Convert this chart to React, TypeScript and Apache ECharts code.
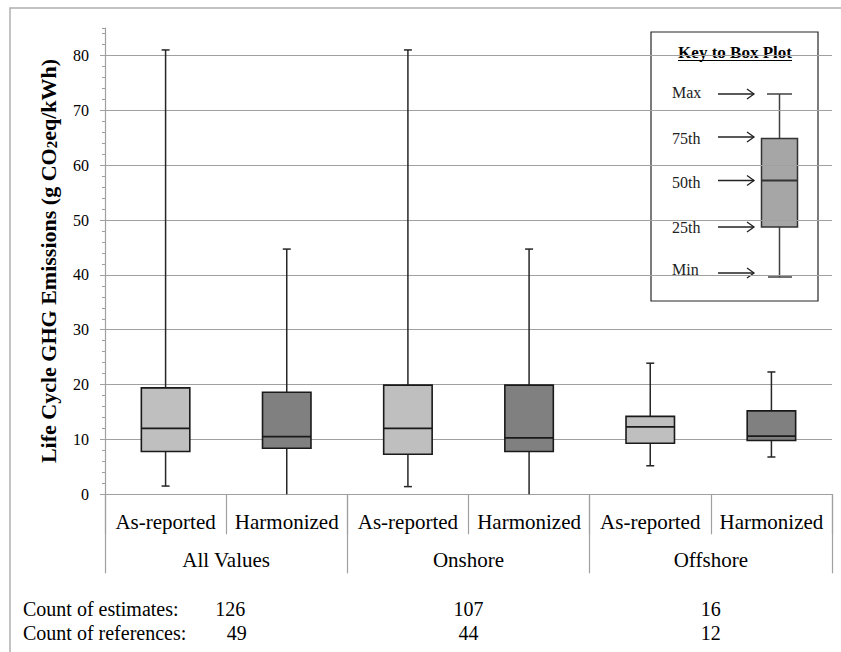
import React, { useEffect, useRef } from "react";
import * as echarts from "echarts";

const subCategories = ["As-reported", "Harmonized", "As-reported", "Harmonized", "As-reported", "Harmonized"];
const groups = ["All Values", "Onshore", "Offshore"];
// [min, q1, median, q3, max]
const boxStats = [
  [1.5, 7.8, 12.0, 19.4, 81],
  [0, 8.4, 10.5, 18.6, 44.7],
  [1.4, 7.3, 12.0, 19.9, 81],
  [0, 7.8, 10.3, 19.9, 44.7],
  [5.2, 9.3, 12.3, 14.2, 23.9],
  [6.8, 9.8, 10.6, 15.2, 22.3],
];
const boxColors = ["#BFBFBF", "#808080", "#BFBFBF", "#808080", "#BFBFBF", "#808080"];
const countEstimates = [126, 107, 16];
const countReferences = [49, 44, 12];
const yTicks = [0, 10, 20, 30, 40, 50, 60, 70, 80];

const FONT = "'Liberation Serif', 'Times New Roman', 'DejaVu Serif', serif";
const GRID = "#A0A0A0";

export default function App() {
  const ref = useRef<HTMLDivElement>(null);
  useEffect(() => {
    document.body.style.margin = "0";
    const chart = echarts.init(ref.current!, null, { renderer: "svg" });
    const data = boxStats.map((s, i) => [i, ...s]);
    const splitColors = yTicks.map(() => GRID).concat(["rgba(0,0,0,0)"]);
    const option: any = {
      animation: false,
      backgroundColor: "#fff",
      grid: { left: 105, right: 9, top: 28, bottom: 157.7 },
      xAxis: [
        {
          type: "category",
          data: subCategories,
          position: "bottom",
          axisLine: { show: true, lineStyle: { color: GRID, width: 1 } },
          axisTick: { show: true, length: 40, lineStyle: { color: GRID, width: 1.2 } },
          axisLabel: { interval: 0, margin: 17, fontFamily: FONT, fontSize: 21, color: "#000" },
          splitLine: { show: false },
        },
        {
          type: "category",
          data: groups,
          position: "bottom",
          axisLine: { show: false },
          axisTick: { show: true, length: 79, lineStyle: { color: GRID, width: 1.2 } },
          axisLabel: { interval: 0, margin: 55, fontFamily: FONT, fontSize: 21, color: "#000" },
        },
        {
          type: "category",
          data: groups,
          position: "bottom",
          axisLine: { show: false },
          axisTick: { show: false },
          axisLabel: {
            interval: 0,
            margin: 103,
            fontFamily: FONT,
            fontSize: 20,
            lineHeight: 24,
            color: "#000",
            formatter: (_v: string, i: number) =>
              i === 0
                ? `{e0|${countEstimates[i]}}\n{r0|${countReferences[i]}}`
                : `${countEstimates[i]}\n${countReferences[i]}`,
            rich: {
              e0: { fontFamily: FONT, fontSize: 20, lineHeight: 24, color: "#000", padding: [0, 0, 0, 8] },
              r0: { fontFamily: FONT, fontSize: 20, lineHeight: 24, color: "#000", padding: [0, 0, 0, 21] },
            },
          },
        },
      ],
      yAxis: [
        {
          type: "value",
          min: 0,
          max: 85,
          interval: 10,
          axisLine: { show: true, lineStyle: { color: GRID, width: 1.2 } },
          axisTick: { show: true, length: 5, lineStyle: { color: GRID } },
          axisLabel: {
            showMaxLabel: false,
            margin: 16,
            fontFamily: FONT,
            fontSize: 16,
            color: "#000",
            formatter: (v: number) => (yTicks.indexOf(v) >= 0 ? String(v) : ""),
          },
          splitLine: { show: true, lineStyle: { color: splitColors, width: 1.2 } },
        },
        {
          type: "value",
          min: 0,
          max: 85,
          interval: 2,
          position: "left",
          axisLine: { show: false },
          axisTick: { show: true, length: 3, lineStyle: { color: GRID } },
          axisLabel: { show: false },
          splitLine: { show: false },
        },
      ],
      series: [
        {
          type: "custom",
          xAxisIndex: 0,
          yAxisIndex: 0,
          data,
          renderItem: (params: any, api: any) => {
            const idx = api.value(0);
            const mn = api.value(1);
            const q1 = api.value(2);
            const md = api.value(3);
            const q3 = api.value(4);
            const mx = api.value(5);
            const pMax = api.coord([idx, mx]);
            const pQ3 = api.coord([idx, q3]);
            const pMd = api.coord([idx, md]);
            const pQ1 = api.coord([idx, q1]);
            const pMin = api.coord([idx, mn]);
            const bw = api.size([1, 0])[0] * 0.4;
            const cx = pMax[0];
            const cap = 4;
            const lineStyle = { stroke: "#262626", lineWidth: 1.5 };
            const children: any[] = [
              { type: "line", shape: { x1: cx, y1: pMax[1], x2: cx, y2: pQ3[1] }, style: lineStyle },
              { type: "line", shape: { x1: cx, y1: pQ1[1], x2: cx, y2: pMin[1] }, style: lineStyle },
              {
                type: "rect",
                shape: { x: cx - bw / 2, y: pQ3[1], width: bw, height: pQ1[1] - pQ3[1] },
                style: { fill: boxColors[params.dataIndex], stroke: "#1a1a1a", lineWidth: 1.6 },
              },
              { type: "line", shape: { x1: cx - bw / 2, y1: pMd[1], x2: cx + bw / 2, y2: pMd[1] }, style: { stroke: "#1a1a1a", lineWidth: 1.8 } },
            ];
            if (mx > q3) children.push({ type: "line", shape: { x1: cx - cap, y1: pMax[1], x2: cx + cap, y2: pMax[1] }, style: lineStyle });
            if (mn > 0.5) children.push({ type: "line", shape: { x1: cx - cap, y1: pMin[1], x2: cx + cap, y2: pMin[1] }, style: lineStyle });
            return { type: "group", children };
          },
        },
      ],
      graphic: [
        {
          type: "rect",
          shape: { x: 10, y: 8, width: 850, height: 660 },
          style: { fill: "none", stroke: "#B0B0B0", lineWidth: 1.5 },
          silent: true,
        },
        {
          type: "text",
          x: 48,
          y: 261,
          rotation: Math.PI / 2,
          style: {
            text: "{a|Life Cycle GHG Emissions (g CO}{s|2}{a|eq/kWh)}",
            align: "center",
            verticalAlign: "middle",
            rich: {
              a: { fontFamily: FONT, fontSize: 22, fontWeight: "bold", fill: "#000" },
              s: { fontFamily: FONT, fontSize: 15, fontWeight: "bold", fill: "#000", verticalAlign: "bottom", padding: [7, 0, 0, 0] },
            },
          },
        },
        {
          type: "text",
          x: 23,
          y: 597,
          style: {
            text: "Count of estimates:\nCount of references:",
            fontFamily: FONT,
            fontSize: 20,
            lineHeight: 24,
            fill: "#000",
          },
        },
        // Key to box plot
        {
          type: "group",
          children: [
            { type: "rect", shape: { x: 651, y: 32, width: 167, height: 269 }, style: { fill: "#fff", stroke: "#262626", lineWidth: 1.2 } },
            { type: "text", x: 735, y: 52, style: { text: "Key to Box Plot", align: "center", verticalAlign: "middle", fontFamily: FONT, fontSize: 17, fontWeight: "bold", fill: "#000" } },
            { type: "line", shape: { x1: 678, y1: 60.5, x2: 792, y2: 60.5 }, style: { stroke: "#000", lineWidth: 1.2 } },
            ...[
              ["Max", 92, 94],
              ["75th", 138, 137],
              ["50th", 182, 180.5],
              ["25th", 227, 227],
              ["Min", 269, 273],
            ].flatMap(([t, ty, ay]: any) => [
              { type: "text", x: 672, y: ty, style: { text: t, verticalAlign: "middle", fontFamily: FONT, fontSize: 16, fill: "#222" } },
              { type: "line", shape: { x1: 718, y1: ay, x2: 754, y2: ay }, style: { stroke: "#222", lineWidth: 1.3 } },
              { type: "polyline", shape: { points: [[747, ay - 5], [754, ay], [747, ay + 5]] }, style: { stroke: "#222", lineWidth: 1.3, fill: "none" } },
            ]),
            { type: "line", shape: { x1: 779.5, y1: 94, x2: 779.5, y2: 138.5 }, style: { stroke: "#404040", lineWidth: 1.5 } },
            { type: "line", shape: { x1: 779.5, y1: 227, x2: 779.5, y2: 277 }, style: { stroke: "#404040", lineWidth: 1.5 } },
            { type: "line", shape: { x1: 767, y1: 94, x2: 792, y2: 94 }, style: { stroke: "#404040", lineWidth: 1.5 } },
            { type: "line", shape: { x1: 768, y1: 277, x2: 792, y2: 277 }, style: { stroke: "#404040", lineWidth: 1.5 } },
            { type: "rect", shape: { x: 761.5, y: 138.5, width: 36, height: 88.5 }, style: { fill: "#A6A6A6", stroke: "#333", lineWidth: 1.5 } },
            { type: "line", shape: { x1: 761.5, y1: 180.5, x2: 797.5, y2: 180.5 }, style: { stroke: "#333", lineWidth: 1.8 } },
          ],
        },
      ],
    };
    chart.setOption(option);
    return () => chart.dispose();
  }, []);
  return <div ref={ref} style={{ width: 841, height: 652 }} />;
}
